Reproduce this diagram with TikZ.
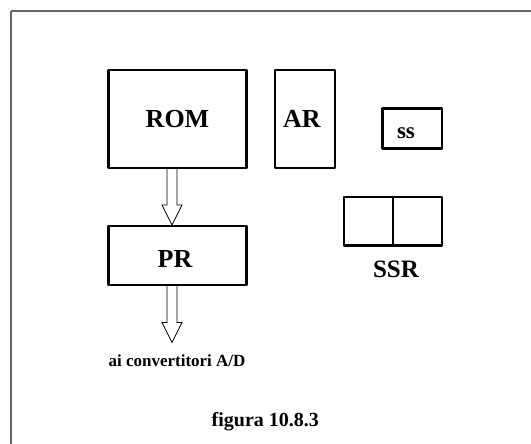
\documentclass[tikz,border=0pt]{standalone}
\usepackage{fontspec}
\setmainfont{Liberation Serif}
\usetikzlibrary{calc}

\tikzset{
  reg/.style={draw=black, line width=2.2pt, line join=round, fill=white,
    rectangle, inner sep=0pt, anchor=center,
    font=\fontsize{26}{28}\selectfont\bfseries},
  barrow/.style={draw=black, line width=0.8pt, fill=white, line join=miter},
  caption/.style={inner sep=0pt, anchor=center, font=\bfseries},
  frameline/.style={draw=black!60, line width=1.3pt}
}

% hollow block arrow from point #1 down to tip #2
\newcommand{\blockarrow}[2]{%
  \draw[barrow] let \p1=(#1), \p2=(#2) in
    (\x1-5pt,\y1) -- (\x1-5pt,\y2+20pt) -- (\x1-10pt,\y2+20pt) --
    (\x2,\y2) -- (\x1+10pt,\y2+20pt) -- (\x1+5pt,\y2+20pt) -- (\x1+5pt,\y1);}

\begin{document}
\begin{tikzpicture}[x=1pt, y=-1pt]
  \useasboundingbox (0,0) rectangle (531,444);
  \fill[white] (0,0) rectangle (531,444);

  % outer frame
  \draw[frameline] (11,11) -- (11,460) (11,11) -- (560,11);

  % registers
  \node[reg, minimum width=138pt, minimum height=98pt] (rom) at (177.5,119) {ROM};
  \node[reg, minimum width=60pt, minimum height=98pt] (ar) at (305,119) {};
  \node[inner sep=0pt, font=\fontsize{26}{28}\selectfont\bfseries] (arlbl) at (302,119) {AR};
  \node[reg, minimum width=59.5pt, minimum height=40pt] (ss) at (412.2,128.5) {};
  \node[inner sep=0pt, font=\fontsize{23}{25}\selectfont\bfseries] (sslbl) at (406,133) {ss};
  \node[reg, minimum width=138pt, minimum height=59pt] (pr) at (177.5,255.5) {};
  \node[inner sep=0pt, font=\fontsize{26}{28}\selectfont\bfseries] (prlbl) at (175,259) {PR};

  % shift register: two cells
  \node[reg, minimum width=48.7pt, minimum height=48.5pt] (ssra) at (368.3,221.2) {};
  \node[reg, minimum width=49pt, minimum height=48.5pt] (ssrb) at (417.2,221.2) {};
  \node[caption, font=\fontsize{25}{27}\selectfont\bfseries] (ssrlbl) at (396,269) {SSR};

  % data paths
  \coordinate (a1s) at ($(rom.south)+(-5.5,0)$);
  \coordinate (a1t) at ($(pr.north)+(-5.5,0)$);
  \blockarrow{a1s}{a1t}
  \coordinate (a2s) at ($(pr.south)+(-5.5,0)$);
  \coordinate (a2t) at (172,342.5);
  \blockarrow{a2s}{a2t}

  \node[caption, font=\fontsize{17}{19}\selectfont\bfseries] (adc) at (177,361) {ai convertitori A/D};
  \node[caption, font=\fontsize{20}{22}\selectfont\bfseries, anchor=base] (fig) at (265.3,426.7) {figura 10.8.3};
\end{tikzpicture}
\end{document}
